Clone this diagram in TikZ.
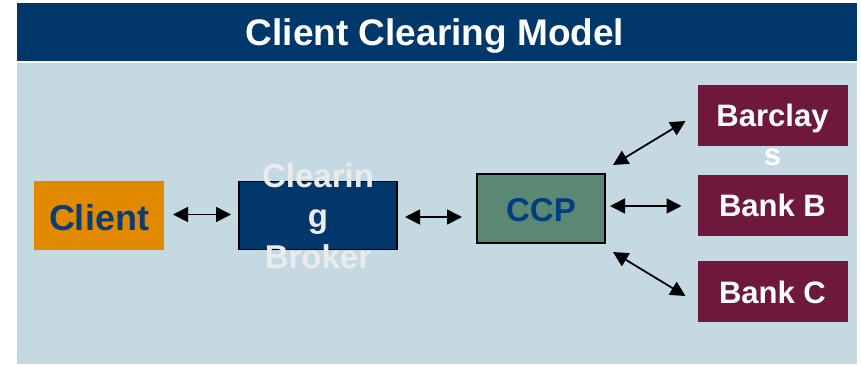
\documentclass[tikz,border=0pt]{standalone}
\usepackage{fontspec}
\setmainfont{Liberation Sans}
\usetikzlibrary{arrows.meta,calc}
\definecolor{navy}{HTML}{00386B}
\definecolor{panel}{HTML}{C4D9E2}
\definecolor{clientorange}{HTML}{E18A00}
\definecolor{clienttext}{HTML}{0B3D73}
\definecolor{brokerfill}{HTML}{00386B}
\definecolor{brokertext}{HTML}{EBEBEB}
\definecolor{ccpfill}{HTML}{5B8872}
\definecolor{ccptext}{HTML}{003F7F}
\definecolor{bank}{HTML}{6E193C}
\tikzset{
  box/.style={rectangle, inner sep=0pt, outer sep=0pt},
  lbl/.style={inner sep=0pt, outer sep=0pt, anchor=base},
  dbl/.style={line width=1.8pt, {Triangle[length=15pt,width=15pt]}-{Triangle[length=15pt,width=15pt]}}
}
\begin{document}
\begin{tikzpicture}[x=1pt,y=-1pt]
\useasboundingbox (0,0) rectangle (861,364);
\fill[white] (0,0) rectangle (861,364);
% title bar and panel
\fill[navy] (17,3) rectangle (857,61);
\fill[panel] (17,63) rectangle (857,364);
\node[lbl, text=white, font=\fontsize{37}{42}\bfseries] (title) at (435,45) {Client Clearing Model};
% boxes
\node[box, fill=clientorange, minimum width=130pt, minimum height=69pt] (client) at (99,215.5) {};
\node[box, fill=brokerfill, draw=black, line width=1.2pt, minimum width=158pt, minimum height=68pt] (broker) at (318,215.5) {};
\node[box, fill=ccpfill, draw=black, line width=1.2pt, minimum width=128pt, minimum height=69pt] (ccp) at (541,208.5) {};
\node[box, fill=bank, minimum width=150pt, minimum height=61pt] (barclays) at (772.5,115.5) {};
\node[box, fill=bank, minimum width=150pt, minimum height=61pt] (bankb) at (772.5,205.5) {};
\node[box, fill=bank, minimum width=150pt, minimum height=61pt] (bankc) at (772.5,291.5) {};
% labels
\node[lbl, text=clienttext, font=\fontsize{36}{40}\bfseries] (clientlbl) at (99,230) {Client};
\node[lbl, text=brokertext, align=center, font=\fontsize{33}{40.5}\bfseries] (brokerlbl) at (318,268) {Clearin\\g\\Broker};
\node[lbl, text=ccptext, font=\fontsize{33}{40}\bfseries] (ccplbl) at (541,221.5) {CCP};
\node[lbl, text=white, align=center, font=\fontsize{31}{39}\bfseries] (barclayslbl) at (772.5,165) {Barclay\\s};
\node[lbl, text=white, font=\fontsize{31}{39}\bfseries] (bankblbl) at (772.5,216.5) {Bank B};
\node[lbl, text=white, font=\fontsize{31}{39}\bfseries] (bankclbl) at (772.5,303) {Bank C};
% connectors
\draw[dbl] ($(client.east)+(9,-1)$) -- ($(broker.west)+(-8,-1)$);
\draw[dbl] ($(broker.east)+(8,1.5)$) -- ($(ccp.west)+(-15,8.5)$);
\draw[dbl] ($(ccp.east)+(5,-2.5)$) -- ($(bankb.west)+(-16,0.5)$);
\draw[dbl] ($(ccp.north east)+(8,-9)$) -- ($(barclays.south west)+(-12,-25)$);
\draw[dbl] ($(ccp.south east)+(8,9)$) -- ($(bankc.north west)+(-12,35)$);
\end{tikzpicture}
\end{document}
